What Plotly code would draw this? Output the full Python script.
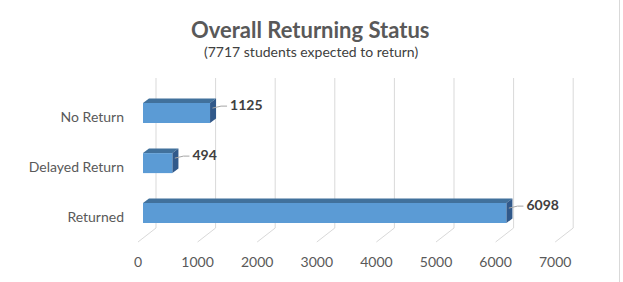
import plotly.graph_objects as go

categories = ["Returned", "Delayed Return", "No Return"]
values = [6098, 494, 1125]
x_ticks = [0, 1000, 2000, 3000, 4000, 5000, 6000, 7000]
title_text = "Overall Returning Status"
subtitle_text = "(7717 students expected to return)"

# ---- geometry (pixel-based layout) ----
W, H = 623, 282
L, R, T, B = 128, 600, 70, 248          # plot area in px
k = 0.0596                               # px per data unit on x
py = 50.0                                # px per category unit on y
x_zero_px = 138
y_zero_px = 217
xmin = (L - x_zero_px) / k
xmax = (R - x_zero_px) / k
ymax = (y_zero_px - T) / py
ymin = (y_zero_px - B) / py

DX = 18 / k        # full depth offset (x, data units)
DY = 14 / py       # full depth offset (y, category units)
f0, f1 = 5 / 18, 11 / 18
floor_front = -0.5
wall_top = (y_zero_px - 78) / py
half = 0.2

front_col = "#5B9BD5"
top_col = "#41719C"
side_col = "#31598A"
grid_col = "#D9D9D9"

fig = go.Figure()

# gridlines (back wall + floor diagonals)
gx, gy = [], []
for v in x_ticks:
    gx += [v, v + DX, v + DX, None]
    gy += [floor_front, floor_front + DY, wall_top, None]
fig.add_trace(go.Scatter(x=gx, y=gy, mode="lines", line=dict(color=grid_col, width=1),
                         hoverinfo="skip", showlegend=False))

x0 = f0 * DX
ddx = (f1 - f0) * DX
ddy = (f1 - f0) * DY
centers = [i + f0 * DY for i in range(len(categories))]

def poly(xs, ys, col):
    fig.add_trace(go.Scatter(x=xs + [xs[0]], y=ys + [ys[0]], fill="toself", fillcolor=col,
                             mode="lines", line=dict(width=0, color=col),
                             hoverinfo="skip", showlegend=False))

for v, c in zip(values, centers):
    xe = x0 + v
    # front face
    poly([x0, xe, xe, x0], [c - half, c - half, c + half, c + half], front_col)
    # top face
    poly([x0, xe, xe + ddx, x0 + ddx], [c + half, c + half, c + half + ddy, c + half + ddy], top_col)
    # side face
    poly([xe, xe, xe + ddx, xe + ddx], [c - half, c + half, c + half + ddy, c - half + ddy], side_col)

# leader lines + labels
lx, ly = [], []
tx, ty, tt = [], [], []
for v, c in zip(values, centers):
    xe = x0 + v
    lab_y = c + 7.0 / py
    lx += [xe + 0.4 * ddx, xe + 11 / k, xe + 17 / k, None]
    ly += [c + 0.1, lab_y, lab_y, None]
    tx.append(xe + 20 / k)
    ty.append(lab_y)
    tt.append(str(v))
fig.add_trace(go.Scatter(x=lx, y=ly, mode="lines", line=dict(color="#A6A6A6", width=1),
                         hoverinfo="skip", showlegend=False))
fig.add_trace(go.Scatter(x=tx, y=ty, mode="text", text=tt, textposition="middle right",
                         textfont=dict(family="Lato", size=14, color="#404040", weight="bold"),
                         hoverinfo="skip", showlegend=False))

fig.update_layout(
    width=W, height=H,
    margin=dict(l=L, r=W - R, t=T, b=H - B, pad=0),
    paper_bgcolor="white", plot_bgcolor="white",
    font=dict(family="Lato", color="#595959", size=14),
    xaxis=dict(range=[xmin, xmax], tickvals=x_ticks, ticktext=[str(t) for t in x_ticks],
               showgrid=False, zeroline=False, showline=False, ticks="", ticklabelstandoff=4,
               tickfont=dict(size=14, color="#595959"), fixedrange=True),
    yaxis=dict(range=[ymin, ymax], tickvals=list(range(len(categories))), ticktext=categories,
               showgrid=False, zeroline=False, showline=False, ticks="", ticklabelstandoff=3,
               tickfont=dict(size=14, color="#595959"), fixedrange=True),
    annotations=[
        dict(text="<b>" + title_text + "</b>", xref="paper", yref="paper",
             x=(310 - L) / (R - L), y=(B - 30) / (B - T), xanchor="center", yanchor="middle",
             showarrow=False, font=dict(family="Lato", size=22, color="#595959")),
        dict(text=subtitle_text, xref="paper", yref="paper",
             x=(311 - L) / (R - L), y=(B - 51) / (B - T), xanchor="center", yanchor="middle",
             showarrow=False, font=dict(family="Lato", size=14, color="#404040")),
    ],
    shapes=[dict(type="line", xref="paper", yref="paper",
                 x0=(619.5 - L) / (R - L), x1=(619.5 - L) / (R - L),
                 y0=(B - H) / (B - T), y1=B / (B - T),
                 line=dict(color="#D9D9D9", width=1))],
)

fig.write_html("out.html")
